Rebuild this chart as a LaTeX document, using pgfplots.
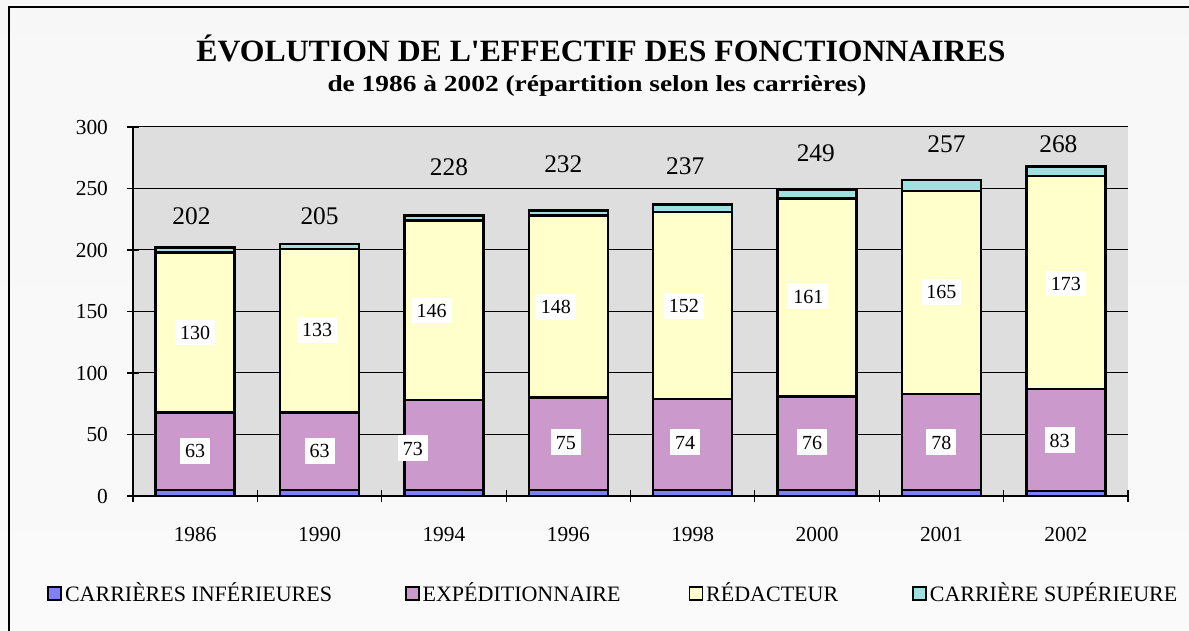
\documentclass[border=0pt]{standalone}
\usepackage{fontspec}
\setmainfont{Liberation Serif}
\usepackage{graphicx}
\usepackage{pgfplots}
\usepackage{pgfplotstable}
\pgfplotsset{compat=1.18}

\definecolor{cinf}{RGB}{128,128,255}
\definecolor{cexp}{RGB}{204,153,204}
\definecolor{cred}{RGB}{255,255,204}
\definecolor{csup}{RGB}{160,224,224}
\definecolor{plotbg}{RGB}{222,222,222}

% effectifs par carriere
\pgfplotstableread{
x inf exp red sup
0 5 63 130 4
1 5 63 133 4
2 5 73 146 4
3 5 75 148 4
4 5 74 152 6
5 5 76 161 7
6 5 78 165 9
7 4 83 173 8
}\effectifs

\begin{document}
\begin{tikzpicture}
% fond
\shade[top color=white!97!black, middle color=black!25, bottom color=white!98!black]
  (-66.5pt,-67.5pt) rectangle (528pt,248pt);
\draw[line width=0.6pt] (-62pt,-67.5pt) -- (-62pt,244.5pt) -- (528pt,244.5pt);

\begin{axis}[
  width=497.5pt, height=184.5pt, scale only axis,
  axis background/.style={fill=plotbg},
  ybar stacked, bar width=0.635,
  xmin=-0.5, xmax=7.5, ymin=0, ymax=300,
  ytick={0,50,...,300},
  xtick={0,...,7},
  xticklabels={1986,1990,1994,1996,1998,2000,2001,2002},
  minor xtick={-0.5,0.5,...,7.5},
  major x tick style={draw=none},
  minor tick length=6pt, major tick length=6pt,
  tick align=center,
  tick style={black, line width=0.6pt},
  ymajorgrids, grid style={black, line width=0.5pt},
  axis x line*=bottom, axis y line*=left,
  axis line style={line width=0.8pt, -},
  ticklabel style={font=\fontsize{10.7}{12}\selectfont},
  /pgf/number format/assume math mode=true,
  xticklabel style={yshift=-9pt},
  yticklabel style={xshift=-6pt},
  clip=false,
  legend columns=4,
  legend style={at={(-0.0864,-0.265)}, anchor=west, draw=none, fill=none,
    font=\fontsize{11}{13}\selectfont, inner sep=0pt,
    nodes={inner sep=0pt},
    /tikz/every odd column/.append style={column sep=1.5pt},
    /tikz/every even column/.append style={column sep=0pt}},
  legend image code/.code={\draw[#1, line width=0.8pt] (0pt,-3.25pt) rectangle (6.5pt,3.25pt);},
  every axis plot/.append style={draw=black, line width=1.2pt},
]
\addplot[fill=cinf] table[x=x, y=inf] {\effectifs};
\addplot[fill=cexp] table[x=x, y=exp] {\effectifs};
\addplot[fill=cred] table[x=x, y=red] {\effectifs};
\addplot[fill=csup] table[x=x, y=sup] {\effectifs};
\legend{\makebox[170pt][l]{CARRIÈRES INFÉRIEURES},
  \makebox[133pt][l]{EXPÉDITIONNAIRE},
  \makebox[103pt][l]{RÉDACTEUR},
  \makebox[118pt][l]{CARRIÈRE SUPÉRIEURE}}
\end{axis}

% etiquettes
\begin{axis}[
  width=497.5pt, height=184.5pt, scale only axis,
  xmin=-0.5, xmax=7.5, ymin=0, ymax=300,
  hide axis, clip=false,
  nodes near coords, point meta=explicit symbolic,
  nodes near coords align={center},
]
\addplot[draw=none, every node near coord/.append style={fill=white,
  font=\fontsize{10}{12}\selectfont, text height=7pt, text depth=0pt,
  inner xsep=2.5pt, inner ysep=2.8pt}] coordinates {
  (0,36.6)[63] (1,36.6)[63] (1.75,39)[73] (2.98,43.9)[75]
  (3.94,43.9)[74] (4.96,43.9)[76] (6,43.9)[78] (6.95,45.5)[83]
};
\addplot[draw=none, every node near coord/.append style={fill=white,
  font=\fontsize{10}{12}\selectfont, text height=7pt, text depth=0pt,
  inner xsep=2.5pt, inner ysep=2.8pt}] coordinates {
  (0,133)[130] (0.98,135)[133] (1.9,151)[146] (2.9,153.7)[148]
  (3.93,154.5)[152] (4.93,162.6)[161] (6,165.9)[165] (7,173)[173]
};
\addplot[draw=none, every node near coord/.append style={
  font=\fontsize{12.7}{14}\selectfont}] coordinates {
  (-0.03,227.6)[202] (1,227.6)[205] (2.04,267.5)[228] (2.96,270)[232]
  (3.94,268)[237] (4.99,279)[249] (6.04,286)[257] (6.94,286)[268]
};
\end{axis}

% titres
\node[anchor=base] at (234pt,217pt)
  {\resizebox{404.5pt}{\height}{\fontsize{15.5}{18}\selectfont\bfseries ÉVOLUTION DE L\textquotesingle EFFECTIF DES FONCTIONNAIRES}};
\node[anchor=base] at (232pt,202pt)
  {\resizebox{269.5pt}{\height}{\fontsize{11.5}{14}\selectfont\bfseries de 1986 à 2002 (répartition selon les carrières)}};

\pgfresetboundingbox
\path (-66.5pt,-67.5pt) rectangle (528pt,248pt);
\end{tikzpicture}
\end{document}
